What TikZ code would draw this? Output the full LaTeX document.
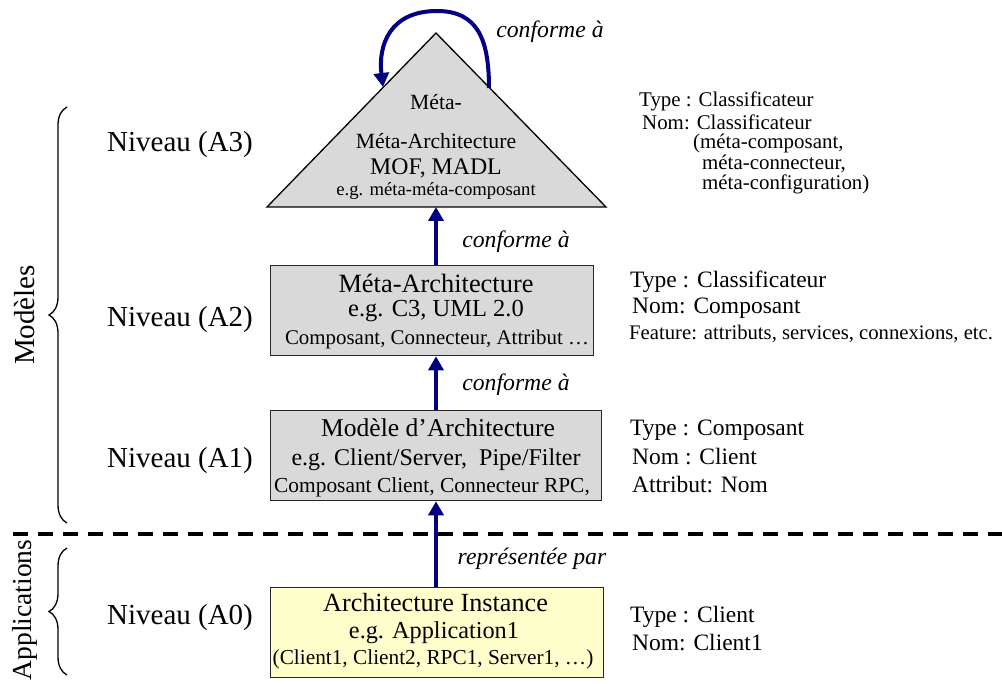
\documentclass[tikz,border=0pt]{standalone}
\usepackage{fontspec}
\setmainfont{Liberation Serif}
\usetikzlibrary{arrows.meta,decorations.pathreplacing}
\definecolor{boxgray}{RGB}{217,217,217}
\definecolor{boxyellow}{RGB}{255,255,204}
\definecolor{arrblue}{RGB}{0,0,128}
\newcommand\fsz[1]{\fontsize{#1}{#1}\selectfont}
\begin{document}
\begin{tikzpicture}[x=1pt,y=-1pt,
  lvl/.style={draw=black!85, line width=1.3pt, inner sep=0pt, anchor=north west},
  txt/.style={inner sep=0pt, anchor=center},
  ann/.style={inner sep=0pt, anchor=west, font=\fsz{23.5}},
  annsm/.style={inner sep=0pt, anchor=west, font=\fsz{20.9}},
  conn/.style={arrblue, line width=4pt, -{Triangle[length=14pt,width=15pt]}},
  lab/.style={inner sep=0pt, font=\fsz{23.7}\itshape},
  niv/.style={inner sep=0pt, font=\fsz{29}},
  side/.style={inner sep=0pt, font=\fsz{29}, rotate=90},
  brc/.style={decorate, decoration={brace, amplitude=18pt}, line width=1.3pt},
]
\useasboundingbox (0,0) rectangle (1002,684);

% triangle (A3)
\coordinate (apex) at (436,33);
\coordinate (tl) at (267,207);
\coordinate (tr) at (606,207);
\coordinate (tbase) at (436,207);
\draw[fill=boxgray, line width=1.3pt, line join=miter] (tl) -- (apex) -- (tr) -- cycle;
\node[txt, font=\fsz{21.7}] (t1) at (436,102) {Méta-};
\node[txt, font=\fsz{21.7}] (t2) at (436,141) {Méta-Architecture};
\node[txt, font=\fsz{23.8}] (t3) at (436,168) {MOF, MADL};
\node[txt, font=\fsz{18.7}] (t4) at (436,191) {e.g. méta-méta-composant};

% self loop
\coordinate (loopS) at (489,88);
\coordinate (loopE) at (383,87);
\draw[conn] (loopS) .. controls (489,40) and (478,11) .. (437,11) .. controls (390,11) and (378,45) .. (loopE);
\node[lab] (l3) at (550,32) {conforme à};

% A2 box
\node[lvl, fill=boxgray, minimum width=323pt, minimum height=90pt] (a2) at (270,265) {};
\node[txt, font=\fsz{26.4}] (a2t1) at (436,283) {Méta-Architecture};
\node[txt, font=\fsz{24.5}] (a2t2) at (436,311) {e.g. C3, UML 2.0};
\node[txt, font=\fsz{20.9}] (a2t3) at (437,339) {Composant, Connecteur, Attribut …};

% A1 box
\node[lvl, fill=boxgray, minimum width=331pt, minimum height=90pt] (a1) at (270,410) {};
\node[txt, font=\fsz{25.6}] (a1t1) at (438,428) {Modèle d’Architecture};
\node[txt, font=\fsz{24}] (a1t2) at (436,460) {e.g. Client/Server,\ \ Pipe/Filter};
\node[txt, font=\fsz{21.4}] (a1t3) at (432,487) {Composant Client, Connecteur RPC,};

% A0 box
\node[lvl, fill=boxyellow, minimum width=333pt, minimum height=90pt] (a0) at (270,587) {};
\node[txt, font=\fsz{26.2}] (a0t1) at (435.5,603) {Architecture Instance};
\node[txt, font=\fsz{24.3}] (a0t2) at (434,633) {e.g. Application1};
\node[txt, font=\fsz{21.3}] (a0t3) at (433,659) {(Client1, Client2, RPC1, Server1, …)};

% connectors
\draw[conn] (a2.north -| tbase) -- (tbase);
\node[lab] (l2) at (516,242) {conforme à};
\draw[conn] (a1.north -| tbase) -- (a2.south -| tbase);
\node[lab] (l1) at (516,385) {conforme à};
\draw[conn] (a0.north -| tbase) -- (a1.south -| tbase);
\node[lab] (l0) at (532,559) {représentée par};

% separator
\coordinate (dl) at (13,534);
\coordinate (dr) at (1002,534);
\draw[line width=3pt, dash pattern=on 15pt off 10pt] (dl) -- (dr);

% level labels
\node[niv] (n3) at (180,145) {Niveau (A3)};
\node[niv] (n2) at (180,320) {Niveau (A2)};
\node[niv] (n1) at (180,461) {Niveau (A1)};
\node[niv] (n0) at (180,618) {Niveau (A0)};

% braces
\coordinate (bm1) at (67,523);
\coordinate (bm2) at (67,107);
\draw[brc] (bm1) -- (bm2);
\coordinate (ba1) at (67,675);
\coordinate (ba2) at (67,548);
\draw[brc] (ba1) -- (ba2);
\node[side] (smod) at (25,315) {Modèles};
\node[side, font=\fsz{27.5}] (sapp) at (25,610) {Applications};

% annotations A3
\node[annsm] (r31) at (639,101) {Type : Classificateur};
\node[annsm] (r32) at (642,122) {Nom: Classificateur};
\node[annsm] (r33) at (693,143) {(méta-composant,};
\node[annsm] (r34) at (702,164) {méta-connecteur,};
\node[annsm] (r35) at (702,184) {méta-configuration)};
% annotations A2
\node[ann] (r21) at (630,282) {Type : Classificateur};
\node[ann] (r22) at (632,308) {Nom: Composant};
\node[ann, font=\fsz{20.7}] (r23) at (629,334) {Feature: attributs, services, connexions, etc.};
% annotations A1
\node[ann] (r11) at (630,430) {Type : Composant};
\node[ann] (r12) at (632,457) {Nom : Client};
\node[ann] (r13) at (632,485) {Attribut: Nom};
% annotations A0
\node[ann] (r01) at (630,617) {Type : Client};
\node[ann] (r02) at (632,643) {Nom: Client1};
\end{tikzpicture}
\end{document}
